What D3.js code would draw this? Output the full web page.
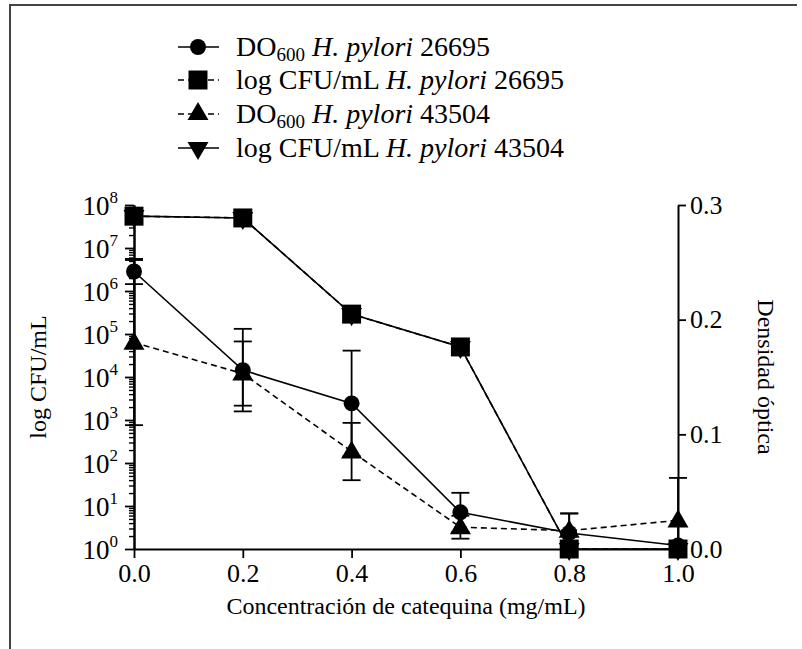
<!DOCTYPE html>
<html><head><meta charset="utf-8">
<script src="https://cdn.jsdelivr.net/npm/d3@7"></script>
<style>body{margin:0;background:#fff}svg{display:block}
svg text{font-family:"Liberation Serif","Times New Roman",Times,"DejaVu Serif",serif !important}</style>
</head><body>
<svg id="c" width="802" height="649"></svg>
<script>
const conc = [0.0, 0.2, 0.4, 0.6, 0.8, 1.0];
const cfu26695 = [5.5e7, 5.0e7, 2.9e5, 5.0e4, 1, 1];
const cfu43504 = [5.5e7, 5.0e7, 2.9e5, 5.0e4, 1, 1];
const do26695 = [0.242, 0.156, 0.127, 0.032, 0.014, 0.003];
const do26695Err = [0.011, 0.036, 0.046, 0.017, 0.017, 0.0];
const do43504 = [0.180, 0.153, 0.085, 0.019, 0.016, 0.025];
const do43504Err = [0.072, 0.028, 0.025, 0.010, 0.015, 0.037];
const xTicks = [0.0, 0.2, 0.4, 0.6, 0.8, 1.0];
const logTicks = [1, 10, 100, 1e3, 1e4, 1e5, 1e6, 1e7, 1e8];
const logExps = ["0","1","2","3","4","5","6","7","8"];
const doTicks = [0.0, 0.1, 0.2, 0.3];
const legendItems = [
  {pre:"DO", sub:"600", sp:" ", it:"H. pylori", num:" 26695", sym:"circle", dash:false},
  {pre:"log CFU/mL ", sub:"", sp:"", it:"H. pylori", num:" 26695", sym:"square", dash:true},
  {pre:"DO", sub:"600", sp:" ", it:"H. pylori", num:" 43504", sym:"triangle", dash:true},
  {pre:"log CFU/mL ", sub:"", sp:"", it:"H. pylori", num:" 43504", sym:"tridown", dash:false}
];

const FONT = "Liberation Serif";
const svg = d3.select("#c");
svg.append("rect").attr("width",802).attr("height",649).attr("fill","#fff");
// frame
svg.append("path").attr("d","M10,649 V5 H797").attr("fill","none").attr("stroke","#444").attr("stroke-width",2);

const L=134, R=678, T=205, B=549;
const x = d3.scaleLinear().domain([0,1]).range([L,R]);
const yL = d3.scaleLog().domain([1,1e8]).range([B,T]);
const yR = d3.scaleLinear().domain([0,0.3]).range([B,T]);

function styleAxis(g){
  g.attr("font-family",FONT);
  g.selectAll("path.domain").attr("stroke","#000").attr("stroke-width",2);
  g.selectAll(".tick line").attr("stroke","#000").attr("stroke-width",1.8);
  g.selectAll("text").attr("font-family",FONT).attr("font-size",25).attr("fill","#000");
}
// minor log ticks
const minors=[];
for(let e=0;e<8;e++) for(let m=2;m<=9;m++) minors.push(m*Math.pow(10,e));
const gMin = svg.append("g").attr("transform",`translate(${L},0)`)
  .call(d3.axisLeft(yL).tickValues(minors).tickSize(5).tickSizeOuter(0).tickFormat(""));
styleAxis(gMin); gMin.selectAll(".tick line").attr("stroke-width",1.4);
const gL = svg.append("g").attr("transform",`translate(${L},0)`)
  .call(d3.axisLeft(yL).tickValues(logTicks).tickSize(9).tickSizeOuter(0).tickFormat(""));
styleAxis(gL);
gL.selectAll(".tick").each(function(d,i){
  const t = d3.select(this).append("text").attr("x",-16).attr("y",9)
    .attr("text-anchor","end").attr("font-family",FONT).attr("font-size",27).attr("fill","#000");
  t.append("tspan").text("10");
  t.append("tspan").attr("dy",-12).attr("font-size",17).text(logExps[i]);
});
const gR = svg.append("g").attr("transform",`translate(${R},0)`)
  .call(d3.axisRight(yR).tickValues(doTicks).tickSize(8).tickSizeOuter(0).tickPadding(4).tickFormat(d3.format(".1f")));
styleAxis(gR); gR.selectAll("text").attr("font-size",26);
const gX = svg.append("g").attr("transform",`translate(0,${B})`)
  .call(d3.axisBottom(x).tickValues(xTicks).tickSize(9).tickSizeOuter(0).tickPadding(6).tickFormat(d3.format(".1f")));
styleAxis(gX); gX.selectAll("text").attr("font-size",26);

// titles
svg.append("text").attr("x",406).attr("y",614).attr("text-anchor","middle")
  .attr("font-family",FONT).attr("font-size",24).text("Concentración de catequina (mg/mL)");
svg.append("text").attr("transform","translate(46,377) rotate(-90)").attr("text-anchor","middle")
  .attr("font-family",FONT).attr("font-size",24).text("log CFU/mL");
svg.append("text").attr("transform","translate(758,377) rotate(90)").attr("text-anchor","middle")
  .attr("font-family",FONT).attr("font-size",24).text("Densidad óptica");

const dashArr="6,4";
function line(vals, ys){ return d3.line().x((d,i)=>x(conc[i])).y(d=>ys(d))(vals); }
svg.append("path").attr("d",line(cfu43504,yL)).attr("fill","none").attr("stroke","#000").attr("stroke-width",1.6);
svg.append("path").attr("d",line(cfu26695,yL)).attr("fill","none").attr("stroke","#000").attr("stroke-width",1.6).attr("stroke-dasharray",dashArr);
svg.append("path").attr("d",line(do26695,yR)).attr("fill","none").attr("stroke","#000").attr("stroke-width",1.6);
svg.append("path").attr("d",line(do43504,yR)).attr("fill","none").attr("stroke","#000").attr("stroke-width",1.6).attr("stroke-dasharray",dashArr);

function errBars(vals, errs){
  const g = svg.append("g").attr("stroke","#000").attr("stroke-width",1.8);
  vals.forEach((v,i)=>{
    if(!errs[i]) return;
    const cx=x(conc[i]), y1=yR(v+errs[i]), y2=yR(Math.max(0,v-errs[i]));
    g.append("line").attr("x1",cx).attr("x2",cx).attr("y1",y1).attr("y2",y2);
    g.append("line").attr("x1",cx-9).attr("x2",cx+9).attr("y1",y1).attr("y2",y1);
    g.append("line").attr("x1",cx-9).attr("x2",cx+9).attr("y1",y2).attr("y2",y2);
  });
}
errBars(do26695, do26695Err);
errBars(do43504, do43504Err);

const symSize = {circle:200, square:360, triangle:190, tridown:190};
function symPath(type){
  if(type==="circle") return d3.symbol(d3.symbolCircle, symSize.circle)();
  if(type==="square") return d3.symbol(d3.symbolSquare, symSize.square)();
  if(type==="triangle") return d3.symbol(d3.symbolTriangle, symSize.triangle)();
  return d3.symbol(d3.symbolTriangle, symSize.tridown)();
}
function markers(vals, ys, type){
  svg.append("g").selectAll("path").data(vals).join("path")
    .attr("d",symPath(type))
    .attr("transform",(d,i)=>`translate(${x(conc[i])},${ys(d)})${type==="tridown"?" rotate(180)":""}${type==="triangle"?" translate(0,1)":""}`)
    .attr("fill","#000");
}
markers(do43504, yR, "triangle");
markers(do26695, yR, "circle");
markers(cfu43504, yL, "tridown");
markers(cfu26695, yL, "square");

// legend
const legY=[47,80,114,148];
legendItems.forEach((it,i)=>{
  const y=legY[i];
  svg.append("line").attr("x1",178).attr("x2",219).attr("y1",y).attr("y2",y)
    .attr("stroke","#000").attr("stroke-width",1.6).attr("stroke-dasharray",it.dash?"6,4":null);
  svg.append("path").attr("d",symPath(it.sym))
    .attr("transform",`translate(198,${y})${it.sym==="tridown"?" rotate(180)":""}`).attr("fill","#000");
  const t=svg.append("text").attr("x",236).attr("y",y+9).attr("font-family",FONT).attr("font-size",28).attr("fill","#000");
  t.append("tspan").text(it.pre);
  if(it.sub){
    t.append("tspan").attr("dy",5).attr("font-size",19).text(it.sub);
    t.append("tspan").attr("dy",-5).text(it.sp);
  }
  t.append("tspan").attr("font-style","italic").text(it.it);
  t.append("tspan").text(it.num);
});
</script>
</body></html>
